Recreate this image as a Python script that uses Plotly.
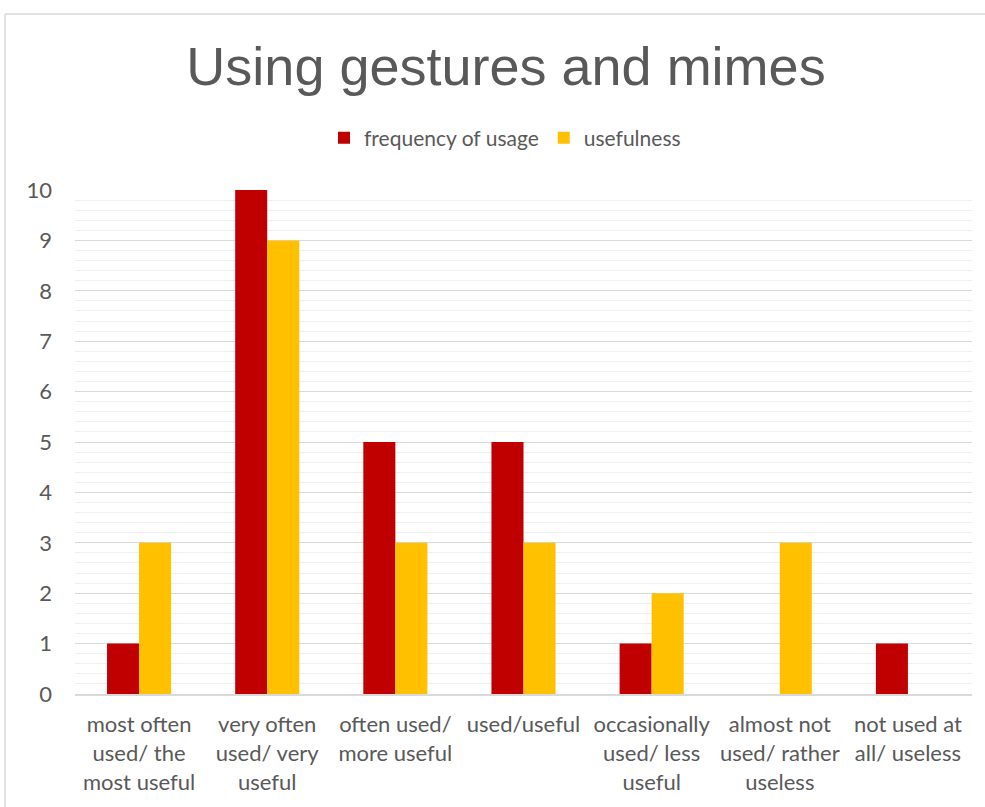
import plotly.graph_objects as go

categories = [
    "most often<br>used/ the<br>most useful",
    "very often<br>used/ very<br>useful",
    "often used/<br>more useful",
    "used/useful",
    "occasionally<br>used/ less<br>useful",
    "almost not<br>used/ rather<br>useless",
    "not used at<br>all/ useless",
]
frequency = [1, 10, 5, 5, 1, 0, 1]
usefulness = [3, 9, 3, 3, 2, 3, 0]

W, H = 985, 807
L, R, T, B = 75, 13, 190, 113
pw = W - L - R
ph = H - T - B

fig = go.Figure()
fig.add_trace(go.Bar(x=categories, y=frequency, name="frequency of usage",
                     marker=dict(color="#C00000", line=dict(width=0))))
fig.add_trace(go.Bar(x=categories, y=usefulness, name="usefulness",
                     marker=dict(color="#FFC000", line=dict(width=0))))

font_lbl = dict(family="Lato, Open Sans, sans-serif", size=22, color="#595959")

fig.update_layout(
    width=W, height=H,
    margin=dict(l=L, r=R, t=T, b=B),
    paper_bgcolor="white", plot_bgcolor="white",
    barmode="group", bargap=0.5, bargroupgap=0,
    title=dict(text="Using gestures and mimes", x=506 / W, xanchor="center",
               y=1 - 66 / H, yanchor="middle",
               font=dict(family="Liberation Sans, Arial, sans-serif",
                         size=54, color="#595959")),
    legend=dict(orientation="h", x=(505 - L) / pw, xanchor="center", y=1 + 52 / ph, yanchor="middle",
                font=dict(family="Lato, Open Sans, sans-serif", size=21, color="#595959"),
                itemwidth=30, traceorder="normal"),
    showlegend=True,
    xaxis=dict(tickfont=font_lbl, showline=True, linecolor="#D9D9D9", linewidth=2,
               showgrid=False, ticks="", fixedrange=True, ticklabelstandoff=10),
    yaxis=dict(range=[0, 10], dtick=1, tickfont=font_lbl, showline=False,
               gridcolor="#D9D9D9", gridwidth=1, zeroline=False,
               ticklabelstandoff=22,
               minor=dict(dtick=0.2, showgrid=True, gridcolor="#EFEFEF", gridwidth=1)),
)

# outer chart border (left and top edges visible)
x_left = (5 - L) / pw
y_top = 1 + (T - 14) / ph
fig.add_shape(type="line", xref="paper", yref="paper", x0=x_left, x1=x_left,
              y0=-2, y1=y_top, line=dict(color="#D9D9D9", width=1.5))
fig.add_shape(type="line", xref="paper", yref="paper", x0=x_left, x1=1.2,
              y0=y_top, y1=y_top, line=dict(color="#D9D9D9", width=1.5))

fig.write_html("out.html")
